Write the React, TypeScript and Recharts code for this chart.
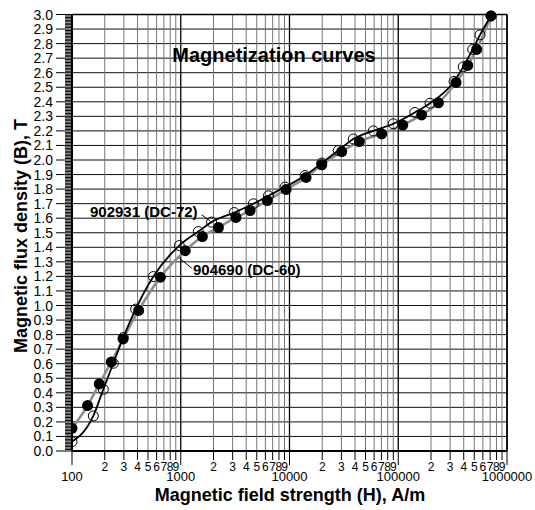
import React from 'react';
import {
  CartesianGrid,
  ComposedChart,
  Line,
  ReferenceLine,
  Scatter,
  XAxis,
  YAxis,
} from 'recharts';

// 902931 (DC-72): open circles, black curve
const H_DC72 = [
  100, 157, 194, 240, 296, 385, 560, 970, 1450, 1920, 3100, 4650, 6400, 9100, 13900,
  19800, 28100, 38600, 59000, 90000, 142000, 196000, 326000, 396000, 484000, 565000, 713000,
];
const B_DC72 = [
  0.064, 0.241, 0.424, 0.603, 0.78, 0.975, 1.199, 1.412, 1.508, 1.573, 1.639, 1.699, 1.754,
  1.814, 1.893, 1.979, 2.065, 2.144, 2.2, 2.249, 2.327, 2.39, 2.54, 2.64, 2.76, 2.86, 2.99,
];

// 904690 (DC-60): filled circles, grey curve
const H_DC60 = [
  100, 139, 178, 230, 295, 410, 650, 1100, 1580, 2220, 3220, 4340, 6250, 9300, 14200,
  19800, 30200, 43800, 70400, 110000, 164000, 234000, 340000, 435000, 526000, 713000,
];
const B_DC60 = [
  0.156, 0.312, 0.461, 0.612, 0.77, 0.966, 1.195, 1.377, 1.474, 1.536, 1.605, 1.653, 1.721,
  1.798, 1.88, 1.967, 2.058, 2.127, 2.18, 2.24, 2.31, 2.393, 2.533, 2.65, 2.76, 2.99,
];

const Y_LABELS = [
  '0.0', '0.1', '0.2', '0.3', '0.4', '0.5', '0.6', '0.7', '0.8', '0.9', '1.0',
  '1.1', '1.2', '1.3', '1.4', '1.5', '1.6', '1.7', '1.8', '1.9', '2.0',
  '2.1', '2.2', '2.3', '2.4', '2.5', '2.6', '2.7', '2.8', '2.9', '3.0',
];
const X_DECADES = [100, 1000, 10000, 100000, 1000000];
const X_DECADE_LABELS = ['100', '1000', '10000', '100000', '1000000'];
const X_DIGITS = ['2', '3', '4', '5', '6', '7', '8', '9'];

const dc72 = H_DC72.map((h, i) => ({ h, b: B_DC72[i] }));
const dc60 = H_DC60.map((h, i) => ({ h, b: B_DC60[i] }));

const yMajor = Y_LABELS.map(Number);
const yTicks: number[] = [];
yMajor.forEach((v, i) => {
  yTicks.push(v);
  if (i < yMajor.length - 1) {
    for (let k = 1; k < 10; k++) yTicks.push(Math.round(v * 100 + k) / 100);
  }
});

const xTickInfo = new Map<number, { label: string; decade: boolean }>();
X_DECADES.forEach((d, i) => {
  xTickInfo.set(d, { label: X_DECADE_LABELS[i], decade: true });
  if (i < X_DECADES.length - 1) {
    X_DIGITS.forEach((m) => xTickInfo.set(d * Number(m), { label: m, decade: false }));
  }
});
const xTicks = Array.from(xTickInfo.keys()).sort((a, b) => a - b);

const W = 535;
const H = 510;
const MARGIN = { top: 14.5, right: 28, left: 12, bottom: 9 };
const Y_AXIS_W = 60;
const X_AXIS_H = 50;
const PLOT_LEFT = MARGIN.left + Y_AXIS_W;
const PLOT_BOTTOM = H - MARGIN.bottom - X_AXIS_H;
const FONT = '"Liberation Sans", Arial, sans-serif';

const YTick = (props: any) => {
  const { y, payload } = props;
  const v = payload.value as number;
  const idx = Math.round(v * 100);
  const major = idx % 10 === 0;
  return (
    <g>
      <line x1={PLOT_LEFT - (major ? 16 : 7)} x2={PLOT_LEFT} y1={y} y2={y} stroke="#000" />
      {major && (
        <text x={PLOT_LEFT - 19} y={y} dy={5} textAnchor="end" fontSize={14} fontFamily={FONT} fill="#000">
          {Y_LABELS[idx / 10]}
        </text>
      )}
    </g>
  );
};

const XTick = (props: any) => {
  const { x, payload } = props;
  const info = xTickInfo.get(payload.value);
  if (!info) return null;
  return (
    <g>
      <line x1={x} x2={x} y1={PLOT_BOTTOM} y2={PLOT_BOTTOM + (info.decade ? 14 : 9)} stroke="#000" />
      <text
        x={x}
        y={info.decade ? PLOT_BOTTOM + 30 : PLOT_BOTTOM + 20}
        textAnchor="middle"
        fontSize={info.decade ? 13 : 12}
        fontFamily={FONT}
        fill="#000"
      >
        {info.label}
      </text>
    </g>
  );
};

const verticalLine = (p: any) => {
  const v = xTicks[p.index];
  const decade = X_DECADES.includes(v);
  return (
    <line
      key={p.key}
      x1={p.x1}
      x2={p.x2}
      y1={p.y1}
      y2={p.y2}
      stroke={decade ? '#000' : '#777'}
      strokeWidth={decade ? 1.3 : 1}
    />
  );
};

const horizontalLine = (p: any) => (
  <line key={p.key} x1={p.x1} x2={p.x2} y1={p.y1} y2={p.y2} stroke="#111" strokeWidth={1} />
);

const OpenDot = (p: any) => (
  <circle cx={p.cx} cy={p.cy} r={5} fill="none" stroke="#000" strokeWidth={1} />
);
const FilledDot = (p: any) => <circle cx={p.cx} cy={p.cy} r={5.5} fill="#000" />;

export default function App() {
  return (
    <div style={{ position: 'absolute', left: 0, top: 0, width: W, height: H, background: '#fff' }}>
      <ComposedChart width={W} height={H} margin={MARGIN}>
        <CartesianGrid
          verticalValues={xTicks}
          horizontalValues={yMajor}
          vertical={verticalLine}
          horizontal={horizontalLine}
        />
        <XAxis
          type="number"
          dataKey="h"
          scale="log"
          domain={[100, 1000000]}
          allowDataOverflow
          ticks={xTicks}
          interval={0}
          height={X_AXIS_H}
          tick={<XTick />}
          tickLine={false}
          axisLine={{ stroke: '#000', strokeWidth: 2 }}
        />
        <YAxis
          type="number"
          domain={[0, 3]}
          ticks={yTicks}
          interval={0}
          width={Y_AXIS_W}
          tick={<YTick />}
          tickLine={false}
          axisLine={{ stroke: '#000', strokeWidth: 2 }}
        />
        <ReferenceLine y={3} stroke="#000" strokeWidth={1.5} />
        <ReferenceLine x={1000000} stroke="#000" strokeWidth={1.5} />
        <ReferenceLine
          segment={[{ x: 1558, y: 1.623 }, { x: 1870, y: 1.58 }]}
          stroke="#000"
          strokeWidth={1}
        />
        <ReferenceLine
          segment={[{ x: 1261, y: 1.257 }, { x: 970, y: 1.325 }]}
          stroke="#000"
          strokeWidth={1}
        />
        <Line
          data={dc60}
          dataKey="b"
          type="monotone"
          stroke="#8c8c8c"
          strokeWidth={2.5}
          dot={false}
          isAnimationActive={false}
        />
        <Line
          data={dc72}
          dataKey="b"
          type="monotone"
          stroke="#000"
          strokeWidth={1.8}
          dot={false}
          isAnimationActive={false}
        />
        <Scatter data={dc72} dataKey="b" shape={<OpenDot />} isAnimationActive={false} />
        <Scatter data={dc60} dataKey="b" shape={<FilledDot />} isAnimationActive={false} />
      </ComposedChart>
      <svg
        width={W}
        height={H}
        style={{ position: 'absolute', left: 0, top: 0, pointerEvents: 'none' }}
        fontFamily={FONT}
        fontWeight="bold"
      >
        <text x={274} y={62} textAnchor="middle" fontSize={20}>
          Magnetization curves
        </text>
        <text x={90} y={217} fontSize={15}>
          902931 (DC-72)
        </text>
        <text x={193} y={275} fontSize={15}>
          904690 (DC-60)
        </text>
        <text x={290} y={501} textAnchor="middle" fontSize={18}>
          Magnetic field strength (H), A/m
        </text>
        <text
          x={0}
          y={0}
          transform="translate(27, 236) rotate(-90)"
          textAnchor="middle"
          fontSize={18}
        >
          Magnetic flux density (B), T
        </text>
      </svg>
    </div>
  );
}
